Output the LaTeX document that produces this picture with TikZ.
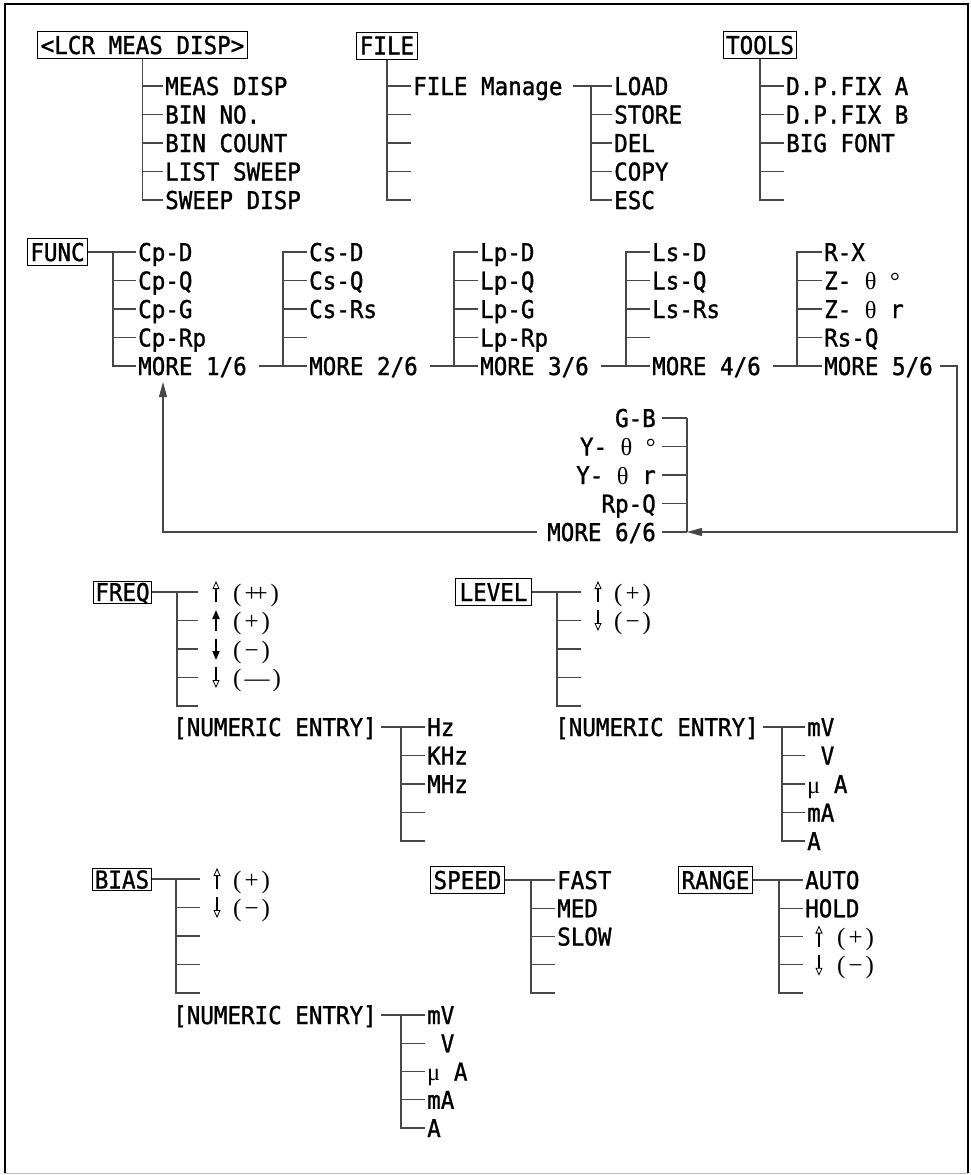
\documentclass[tikz,border=0pt]{standalone}
\usepackage{fontspec}
\usetikzlibrary{arrows.meta}
\newfontfamily\monof{DejaVu Sans Mono}[FakeStretch=0.92, FakeBold=1.2]
\newfontfamily\serf{Liberation Serif}
\newcommand\itemfont{\monof\fontsize{24.5}{27}\selectfont}
\newcommand\serfont{\serf\fontsize{25}{27}\selectfont}
\newcommand\pp[1]{(\hspace{3pt}#1\hspace{3pt})}
\tikzset{
 wire/.style={draw=black!72, line width=1.1pt},
 mitem/.style={anchor=west, inner xsep=2pt, inner ysep=0pt, text height=18pt, text depth=0pt, font=\itemfont},
 ritem/.style={mitem, anchor=east},
 sitem/.style={mitem, font=\serfont},
 menubox/.style={draw=black, line width=1pt, inner xsep=3pt, inner ysep=4.5pt, text height=18pt, text depth=0pt, font=\itemfont},
 tightbox/.style={menubox, inner ysep=2pt, inner xsep=2pt},
 loopline/.style={wire, -{Triangle[length=15pt,width=8pt]}},
 hup/.style={line width=1.2pt, -{Triangle[open,length=8pt,width=7pt,line width=0.8pt]}},
 fup/.style={line width=2pt, -{Triangle[length=9pt,width=7pt]}},
}
\begin{document}
\begin{tikzpicture}[x=1pt,y=-1pt]
\useasboundingbox (0,0) rectangle (971,1175);
% frame
\draw[line width=2.2pt] (5,1173) -- (5,4) -- (968,4) -- (968,1173);
\draw[black!25, line width=1pt] (5,1173) -- (968,1173);

% ---------- LCR MEAS DISP ----------
\node[menubox] (lcr) at (142.5,45) {<LCR MEAS DISP>};
\node[mitem] (l1) at (163,86) {MEAS DISP};
\node[mitem] (l2) at (163,114.5) {BIN NO.};
\node[mitem] (l3) at (163,143) {BIN COUNT};
\node[mitem] (l4) at (163,171.5) {LIST SWEEP};
\node[mitem] (l5) at (163,200) {SWEEP DISP};
\draw[wire] (lcr.south) |- (l5.west);
\foreach \n in {l1,l2,l3,l4} \draw[wire] (lcr.south |- \n.west) -- (\n.west);

% ---------- FILE ----------
\node[menubox] (file) at (387,45.5) {FILE};
\node[mitem] (f1) at (411,86) {FILE Manage};
\node[mitem] (f2) at (411,114.5) {};
\node[mitem] (f3) at (411,143) {};
\node[mitem] (f4) at (411,171.5) {};
\node[mitem] (f5) at (411,200) {};
\draw[wire] (file.south) |- (f5.west);
\foreach \n in {f1,f2,f3,f4} \draw[wire] (file.south |- \n.west) -- (\n.west);
\node[mitem] (s1) at (612,86) {LOAD};
\node[mitem] (s2) at (612,114.5) {STORE};
\node[mitem] (s3) at (612,143) {DEL};
\node[mitem] (s4) at (612,171.5) {COPY};
\node[mitem] (s5) at (612,200) {ESC};
\coordinate (sk) at (591,86);
\draw[wire, shorten <=8pt] (f1.east) -- (s1.west);
\draw[wire] (sk) |- (s5.west);
\foreach \n in {s2,s3,s4} \draw[wire] (sk |- \n.west) -- (\n.west);

% ---------- TOOLS ----------
\node[menubox] (tools) at (760,45) {TOOLS};
\node[mitem] (t1) at (784,86) {D.P.FIX A};
\node[mitem] (t2) at (784,114.5) {D.P.FIX B};
\node[mitem] (t3) at (784,143) {BIG FONT};
\node[mitem] (t4) at (784,171.5) {};
\node[mitem] (t5) at (784,200) {};
\draw[wire] (tools.south) |- (t5.west);
\foreach \n in {t1,t2,t3,t4} \draw[wire] (tools.south |- \n.west) -- (\n.west);

% ---------- FUNC ----------
\node[menubox] (func) at (57.5,252) {FUNC};
\node[mitem] (c11) at (136,252) {Cp-D};
\node[mitem] (c12) at (136,280.5) {Cp-Q};
\node[mitem] (c13) at (136,309) {Cp-G};
\node[mitem] (c14) at (136,337.5) {Cp-Rp};
\node[mitem] (c15) at (136,366) {MORE 1/6};
\coordinate (k1) at (113,252);
\draw[wire] (func.east) -- (c11.west);
\draw[wire] (k1) |- (c15.west);
\foreach \n in {c12,c13,c14} \draw[wire] (k1 |- \n.west) -- (\n.west);

\node[mitem] (c21) at (307,252) {Cs-D};
\node[mitem] (c22) at (307,280.5) {Cs-Q};
\node[mitem] (c23) at (307,309) {Cs-Rs};
\node[mitem] (c24) at (307,337.5) {};
\node[mitem] (c25) at (307,366) {MORE 2/6};
\coordinate (k2) at (283,252);
\draw[wire, shorten <=10.5pt] (c15.east) -- (c25.west);
\draw[wire] (c21.west) -| (k2 |- c25.west);
\foreach \n in {c22,c23,c24} \draw[wire] (k2 |- \n.west) -- (\n.west);

\node[mitem] (c31) at (478,252) {Lp-D};
\node[mitem] (c32) at (478,280.5) {Lp-Q};
\node[mitem] (c33) at (478,309) {Lp-G};
\node[mitem] (c34) at (478,337.5) {Lp-Rp};
\node[mitem] (c35) at (478,366) {MORE 3/6};
\coordinate (k3) at (454,252);
\draw[wire, shorten <=10.5pt] (c25.east) -- (c35.west);
\draw[wire] (c31.west) -| (k3 |- c35.west);
\foreach \n in {c32,c33,c34} \draw[wire] (k3 |- \n.west) -- (\n.west);

\node[mitem] (c41) at (650,252) {Ls-D};
\node[mitem] (c42) at (650,280.5) {Ls-Q};
\node[mitem] (c43) at (650,309) {Ls-Rs};
\node[mitem] (c44) at (650,337.5) {};
\node[mitem] (c45) at (650,366) {MORE 4/6};
\coordinate (k4) at (626,252);
\draw[wire, shorten <=10.5pt] (c35.east) -- (c45.west);
\draw[wire] (c41.west) -| (k4 |- c45.west);
\foreach \n in {c42,c43,c44} \draw[wire] (k4 |- \n.west) -- (\n.west);

\node[mitem] (c51) at (822,252) {R-X};
\node[mitem] (c52) at (822,280.5) {Z- {\serf θ} {\serf °}};
\node[mitem] (c53) at (822,309) {Z- {\serf θ} r};
\node[mitem] (c54) at (822,337.5) {Rs-Q};
\node[mitem] (c55) at (822,366) {MORE 5/6};
\coordinate (k5) at (797,252);
\draw[wire, shorten <=10.5pt] (c45.east) -- (c55.west);
\draw[wire] (c51.west) -| (k5 |- c55.west);
\foreach \n in {c52,c53,c54} \draw[wire] (k5 |- \n.west) -- (\n.west);

% ---------- MORE 6/6 ----------
\node[ritem] (g1) at (658,418) {G-B};
\node[ritem] (g2) at (658,446.5) {Y- {\serf θ} {\serf °}};
\node[ritem] (g3) at (658,475) {Y- {\serf θ} r};
\node[ritem] (g4) at (658,503.5) {Rp-Q};
\node[ritem] (g5) at (658,532) {MORE 6/6};
\coordinate (gv) at (687,418);
\foreach \n in {g1,g2,g3,g4,g5} \draw[wire, shorten <=4pt] (\n.east) -- (\n.east -| gv);
\draw[wire] (gv) -- (gv |- g5.east);
\coordinate (rv) at (957,450);
\draw[loopline] ([xshift=5.5pt]c55.east) -| (rv) |- (gv |- g5.east);
\coordinate (la) at (163,382);
\draw[loopline] ([xshift=-8pt]g5.west) -| (la);

% ---------- FREQ ----------
\node[tightbox] (freq) at (122.5,592) {FREQ};
\coordinate (qk) at (177,592);
\coordinate (qb1) at (198,592);
\coordinate (qb2) at (198,620.5);
\coordinate (qb3) at (198,649);
\coordinate (qb4) at (198,677.5);
\coordinate (qb5) at (198,706);
\draw[wire] (freq.east) -- (qb1);
\draw[wire] (qk) |- (qb5);
\foreach \n in {qb2,qb3,qb4} \draw[wire] (qk |- \n) -- (\n);
\node[sitem] (q1) at (231,592) {\pp{+\kern-5pt+}};
\node[sitem] (q2) at (231,620.5) {\pp{+}};
\node[sitem] (q3) at (231,649) {\pp{−}};
\node[sitem] (q4) at (231,677.5) {\pp{—}};
\draw[hup] (216,602) -- (216,581);
\draw[fup] (216,631) -- (216,610);
\draw[fup] (216,639) -- (216,660);
\draw[hup] (216,667) -- (216,688);
\node[mitem] (n1) at (171,727) {[NUMERIC ENTRY]};
\node[mitem] (h1) at (425,727) {Hz};
\node[mitem] (h2) at (425,755.5) {KHz};
\node[mitem] (h3) at (425,784) {MHz};
\node[mitem] (h4) at (425,812.5) {};
\node[mitem] (h5) at (425,841) {};
\coordinate (hk) at (401,727);
\draw[wire, shorten <=2pt] (n1.east) -- (h1.west);
\draw[wire] (hk) |- (h5.west);
\foreach \n in {h2,h3,h4} \draw[wire] (hk |- \n.west) -- (\n.west);

% ---------- LEVEL ----------
\node[menubox, inner xsep=4pt] (lev) at (493.5,592) {LEVEL};
\coordinate (vk) at (557,592);
\coordinate (vb1) at (581,592);
\coordinate (vb2) at (581,620.5);
\coordinate (vb3) at (581,649);
\coordinate (vb4) at (581,677.5);
\coordinate (vb5) at (581,706);
\draw[wire] (lev.east) -- (vb1);
\draw[wire] (vk) |- (vb5);
\foreach \n in {vb2,vb3,vb4} \draw[wire] (vk |- \n) -- (\n);
\node[sitem] (v1) at (612,592) {\pp{+}};
\node[sitem] (v2) at (612,620.5) {\pp{−}};
\draw[hup] (598,602) -- (598,581);
\draw[hup] (598,610) -- (598,631);
\node[mitem] (n2) at (553,727) {[NUMERIC ENTRY]};
\node[mitem] (m1) at (805,727) {mV};
\node[mitem] (m2) at (805,755.5) {\ V};
\node[mitem] (m3) at (805,784) {{\serf μ} A};
\node[mitem] (m4) at (805,812.5) {mA};
\node[mitem] (m5) at (805,841) {A};
\coordinate (mk) at (782,727);
\draw[wire, shorten <=2pt] (n2.east) -- (m1.west);
\draw[wire] (mk) |- (m5.west);
\foreach \n in {m2,m3,m4} \draw[wire] (mk |- \n.west) -- (\n.west);

% ---------- BIAS ----------
\node[tightbox] (bias) at (122,879.5) {BIAS};
\coordinate (bk) at (176,879);
\coordinate (bb1) at (200,879);
\coordinate (bb2) at (200,907.5);
\coordinate (bb3) at (200,936);
\coordinate (bb4) at (200,964.5);
\coordinate (bb5) at (200,993);
\draw[wire] (bias.east |- bb1) -- (bb1);
\draw[wire] (bk) |- (bb5);
\foreach \n in {bb2,bb3,bb4} \draw[wire] (bk |- \n) -- (\n);
\node[sitem] (b1) at (231,879) {\pp{+}};
\node[sitem] (b2) at (231,907.5) {\pp{−}};
\draw[hup] (217,889) -- (217,868);
\draw[hup] (217,897) -- (217,918);
\node[mitem] (n3) at (171,1015) {[NUMERIC ENTRY]};
\node[mitem] (u1) at (425,1015) {mV};
\node[mitem] (u2) at (425,1043.25) {\ V};
\node[mitem] (u3) at (425,1071.5) {{\serf μ} A};
\node[mitem] (u4) at (425,1099.75) {mA};
\node[mitem] (u5) at (425,1128) {A};
\coordinate (uk) at (401,1015);
\draw[wire, shorten <=2pt] (n3.east) -- (u1.west);
\draw[wire] (uk) |- (u5.west);
\foreach \n in {u2,u3,u4} \draw[wire] (uk |- \n.west) -- (\n.west);

% ---------- SPEED ----------
\node[menubox] (speed) at (467.5,880) {SPEED};
\node[mitem] (p1) at (555,880) {FAST};
\node[mitem] (p2) at (555,908.25) {MED};
\node[mitem] (p3) at (555,936.5) {SLOW};
\node[mitem] (p4) at (555,964.75) {};
\node[mitem] (p5) at (555,993) {};
\coordinate (pk) at (531,880);
\draw[wire] (speed.east) -- (p1.west);
\draw[wire] (pk) |- (p5.west);
\foreach \n in {p2,p3,p4} \draw[wire] (pk |- \n.west) -- (\n.west);

% ---------- RANGE ----------
\node[menubox] (range) at (715.5,880) {RANGE};
\node[mitem] (r1) at (803,880) {AUTO};
\node[mitem] (r2) at (803,908.25) {HOLD};
\coordinate (rb3) at (803,936.5);
\coordinate (rb4) at (803,964.75);
\node[mitem] (r5) at (803,993) {};
\coordinate (rk) at (779,880);
\draw[wire] (range.east) -- (r1.west);
\draw[wire] (rk) |- (r5.west);
\draw[wire] (rk |- r2.west) -- (r2.west);
\draw[wire] (rk |- rb3) -- (rb3);
\draw[wire] (rk |- rb4) -- (rb4);
\node[sitem] (r3) at (835,936.5) {\pp{+}};
\node[sitem] (r4) at (835,964.75) {\pp{−}};
\draw[hup] (819,946.5) -- (819,925.5);
\draw[hup] (819,954.75) -- (819,975.75);
\end{tikzpicture}
\end{document}
